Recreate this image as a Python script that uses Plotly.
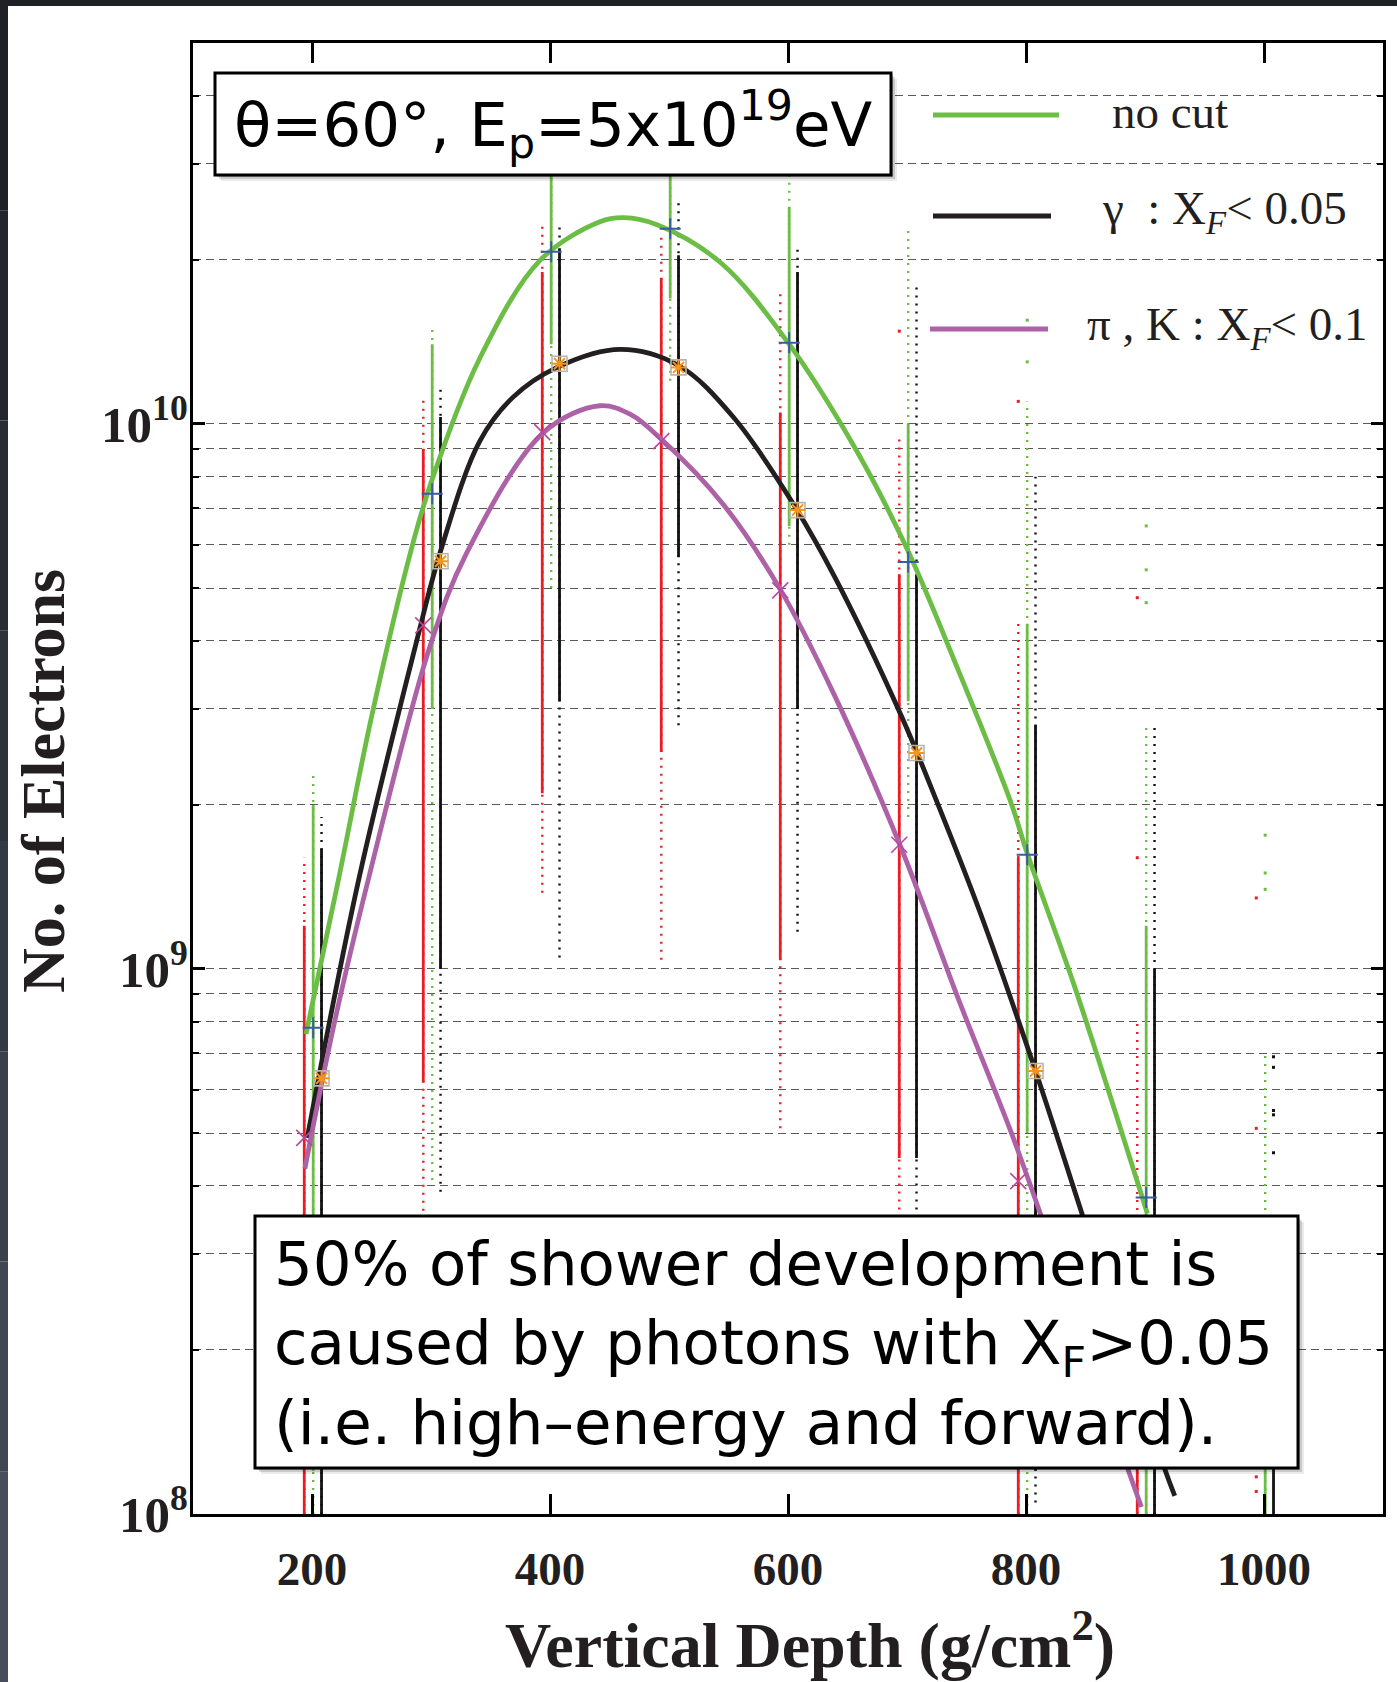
import numpy as np
import plotly.graph_objects as go

# ---------------------------------------------------------------------------
# Data: electron number vs vertical depth, theta = 60 deg, Ep = 5e19 eV
# ---------------------------------------------------------------------------
depths = [200, 300, 400, 500, 600, 700, 800, 900, 1000]

# spread of individual showers per depth: (low, high) of the dense core and
# of the sparse outer extent; None where nothing is drawn
red_core = [(1e8, 1.2e9), (6.2e8, 9.0e9), (2.1e9, 1.9e10), (2.5e9, 1.85e10), (1.04e9, 1.05e10),
            (4.5e8, 5.3e9), (1e8, 1.6e9), (1e8, 3.0e8), None]
red_tail = [(1e8, 1.6e9), (3.6e8, 1.13e10), (1.38e9, 2.35e10), (1.04e9, 2.2e10), (5.1e8, 1.77e10),
            (3.5e8, 9.5e9), (1e8, 4.3e9), (1e8, 8.1e8), None]
red_lone = {700: [1.48e10], 800: [1.1e10], 900: [4.8e9, 1.6e9], 1000: [1.35e9, 5.1e8, 1.17e8, 1.1e8]}

green_core = [(1.2e8, 2.0e9), (3.0e9, 1.4e10), (1.4e10, 3.0e10), (1.7e10, 3.0e10), (6.5e9, 2.5e10),
              (3.1e9, 1.0e10), (5.0e8, 4.3e9), (1e8, 1.2e9), (1e8, 1.3e8)]
green_tail = [(1e8, 2.3e9), (4.1e8, 1.5e10), (5.0e9, 3.0e10), (1.2e10, 3.0e10), (6.0e9, 3.0e10),
              (1.9e9, 2.3e10), (1e8, 1.1e10), (1e8, 2.8e9), (1e8, 7.0e8)]
green_lone = {800: [1.55e10, 1.3e10], 900: [6.5e9, 5.4e9, 4.7e9], 1000: [1.76e9, 1.5e9, 1.4e9]}

black_core = [(1e8, 1.66e9), (1.0e9, 1.03e10), (3.1e9, 2.1e10), (5.7e9, 2.04e10), (3.0e9, 1.9e10),
              (4.5e8, 5.3e9), (1.2e8, 2.8e9), (1e8, 1.0e9), (1e8, 1.25e8)]
black_tail = [(1e8, 1.9e9), (3.9e8, 1.16e10), (1.05e9, 2.35e10), (2.8e9, 2.57e10), (1.17e9, 2.13e10),
              (3.5e8, 1.8e10), (1.05e8, 8.0e9), (1e8, 2.8e9), None]
black_lone = {1000: [6.9e8, 6.6e8, 5.5e8, 5.4e8, 4.6e8]}

# mean values per depth
mean_depths = [200, 300, 400, 500, 600, 700, 800, 900]
mean_nocut = [7.8e8, 7.45e9, 2.07e10, 2.28e10, 1.41e10, 5.58e9, 1.62e9, 3.81e8]
mean_gamma = [6.3e8, 5.6e9, 1.29e10, 1.27e10, 6.95e9, 2.49e9, 6.5e8, None]
mean_pik = [4.9e8, 4.27e9, 9.66e9, 9.3e9, 4.95e9, 1.69e9, 4.08e8, None]

# fitted longitudinal profiles
fit_nocut_x = [195, 222, 250, 283, 300, 341, 392, 442, 462, 490, 543, 599, 658, 700, 740, 787, 801, 840, 880, 902]
fit_nocut_y = [7.6e8, 1.45e9, 2.9e9, 5.84e9, 7.8e9, 1.32e10, 2.0e10, 2.35e10, 2.39e10, 2.32e10, 1.98e10,
               1.42e10, 8.9e9, 5.9e9, 3.67e9, 2.03e9, 1.63e9, 9.4e8, 5.05e8, 3.56e8]
fit_gamma_x = [196, 239, 288, 308, 341, 369, 406, 459, 508, 554, 605, 639, 695, 725, 762, 808, 847, 916, 925]
fit_gamma_y = [4.9e8, 1.45e9, 4.0e9, 5.84e9, 9.3e9, 1.12e10, 1.27e10, 1.37e10, 1.28e10, 1.03e10,
               7.1e9, 5.25e9, 2.92e9, 2.03e9, 1.26e9, 6.5e8, 3.56e8, 1.22e8, 1.08e8]
fit_pik_x = [194, 219, 247, 299, 330, 395, 442, 468, 493, 546, 594, 639, 694, 745, 787, 812, 885, 897]
fit_pik_y = [4.3e8, 8.0e8, 1.45e9, 3.9e9, 5.8e9, 9.66e9, 1.08e10, 1.04e10, 9.4e9, 7.1e9, 4.95e9, 3.18e9,
             1.69e9, 8.6e8, 5.05e8, 3.56e8, 1.22e8, 1.03e8]

x_ticks = [200, 400, 600, 800, 1000]
y_ticks = [1e8, 1e9, 1e10]
y_ticktext = ["10<sup>8</sup>", "10<sup>9</sup>", "10<sup>10</sup>"]
y_minor = [k * 10.0 ** e for e in (8, 9, 10) for k in range(2, 10) if k * 10.0 ** e <= 5e10]
y_top = 5e10

legend_labels = ["no cut",
                 "γ\u00a0\u00a0: X<sub><i>F</i></sub>&lt; 0.05",
                 "π , K\u00a0: X<sub><i>F</i></sub>&lt; 0.1"]
title_text = "θ=60°, E<sub>p</sub>=5x10<sup>19</sup>eV"
note_text = ("50% of shower development is<br>"
             "caused by photons with X<sub>F</sub>&gt;0.05<br>"
             "(i.e. high–energy and forward).")

# ---------------------------------------------------------------------------
# Styling
# ---------------------------------------------------------------------------
RED, GREEN, BLACK, PURPLE = "#ec1c24", "#6cbd45", "#231f20", "#ad62a7"
ORANGE, BLUE, MAGENTA = "#f7941d", "#3b5ba5", "#b8489f"
OFFSET = {"red": -6.5, "green": 1.0, "black": 8.0}   # side-by-side columns per depth
SERIF = "Liberation Serif"
SANS = "DejaVu Sans"

W, H = 1397, 1682
L, R, T, B = 193, 1383, 43, 1514          # plot area in pixels


def px_x(px):
    return (px - L) / (R - L)


def px_y(py):
    return (B - py) / (B - T)


def segments(ranges, off):
    xs, ys = [], []
    for d, r in zip(depths, ranges):
        if r is None:
            continue
        xs += [d + off, d + off, None]
        ys += [r[0], r[1], None]
    return xs, ys


def lone(points, off):
    xs, ys = [], []
    for d, vals in points.items():
        for v in vals:
            xs.append(d + off)
            ys.append(v)
    return xs, ys


fig = go.Figure()

columns = [("red", RED, red_core, red_tail, red_lone),
           ("green", GREEN, green_core, green_tail, green_lone),
           ("black", "#111111", black_core, black_tail, black_lone)]
for name, col, core, tail, single in columns:
    off = OFFSET[name]
    xs, ys = segments(tail, off)
    fig.add_trace(go.Scatter(x=xs, y=ys, mode="lines", hoverinfo="skip",
                             line=dict(color=col, width=2.4, dash="2px,6px")))
    xs, ys = segments(core, off)
    fig.add_trace(go.Scatter(x=xs, y=ys, mode="lines", hoverinfo="skip",
                             line=dict(color=col, width=2.8)))
    xs, ys = lone(single, off)
    fig.add_trace(go.Scatter(x=xs, y=ys, mode="markers", hoverinfo="skip",
                             marker=dict(symbol="square", size=3, color=col, line=dict(width=0))))

# fitted profiles
for fx, fy, col in [(fit_nocut_x, fit_nocut_y, GREEN),
                    (fit_gamma_x, fit_gamma_y, BLACK),
                    (fit_pik_x, fit_pik_y, PURPLE)]:
    fig.add_trace(go.Scatter(x=fx, y=fy, mode="lines", hoverinfo="skip",
                             line=dict(color=col, width=4.8, shape="spline", smoothing=1.0)))

# means
fig.add_trace(go.Scatter(x=[d + OFFSET["green"] for d in mean_depths], y=mean_nocut, mode="markers",
                         marker=dict(symbol="cross-thin-open", size=15, color=BLUE,
                                     line=dict(color=BLUE, width=2))))
gx = [d + OFFSET["black"] for d in mean_depths]
fig.add_trace(go.Scatter(x=gx, y=mean_gamma, mode="markers",
                         marker=dict(symbol="square-open", size=15, color="#b5b5b5",
                                     line=dict(color="#b5b5b5", width=1.6))))
fig.add_trace(go.Scatter(x=gx, y=mean_gamma, mode="markers",
                         marker=dict(symbol="asterisk-open", size=13, color=ORANGE,
                                     line=dict(color=ORANGE, width=2))))
fig.add_trace(go.Scatter(x=[d + OFFSET["red"] for d in mean_depths], y=mean_pik, mode="markers",
                         marker=dict(symbol="x-thin-open", size=16, color=MAGENTA,
                                     line=dict(color=MAGENTA, width=1.6))))

grid = dict(showgrid=True, gridcolor="#5a5a5a", griddash="8px,5px", gridwidth=1.4)

fig.update_xaxes(range=[100, 1100], tickmode="array", tickvals=x_ticks,
                 ticks="inside", ticklen=20, tickwidth=2.5, tickcolor="black",
                 showline=True, linewidth=3, linecolor="black", mirror="ticks",
                 showgrid=False, zeroline=False, ticklabelstandoff=12,
                 tickfont=dict(family=SERIF, size=47, color=BLACK, weight="bold"))
fig.update_yaxes(type="log", range=[8, np.log10(y_top)], tickmode="array",
                 tickvals=y_ticks, ticktext=y_ticktext,
                 ticks="inside", ticklen=12, tickwidth=2.5, tickcolor="black",
                 showline=True, linewidth=3, linecolor="black", mirror="ticks",
                 zeroline=False, ticklabelstandoff=-8,
                 tickfont=dict(family=SERIF, size=51, color=BLACK, weight="bold"),
                 minor=dict(tickmode="array", tickvals=y_minor, ticks="inside", ticklen=6,
                            tickwidth=2, tickcolor="black", **grid),
                 **grid)

shapes = []
# dark window edge along the top and left
shapes.append(dict(type="rect", xref="paper", yref="paper", x0=px_x(0), x1=px_x(W), y0=px_y(0), y1=px_y(6),
                   fillcolor="#1e2126", line=dict(width=0), layer="above"))
strip_cols = ["#1e2126", "#23272d", "#282d34", "#2d333b", "#333a43", "#39414b", "#3f4753", "#454e5a"]
n = len(strip_cols)
for i, c in enumerate(strip_cols):
    shapes.append(dict(type="rect", xref="paper", yref="paper", x0=px_x(0), x1=px_x(8),
                       y0=px_y(H * (i + 1) / n), y1=px_y(H * i / n),
                       fillcolor=c, line=dict(width=0), layer="above"))


def framed_box(x0, y0, x1, y1):
    out = []
    for k, a in [(6, 0.08), (4, 0.14), (2, 0.2)]:
        out.append(dict(type="rect", xref="paper", yref="paper",
                        x0=px_x(x0 + k), x1=px_x(x1 + k), y0=px_y(y1 + k), y1=px_y(y0 + k),
                        fillcolor=f"rgba(0,0,0,{a})", line=dict(width=0), layer="above"))
    out.append(dict(type="rect", xref="paper", yref="paper",
                    x0=px_x(x0), x1=px_x(x1), y0=px_y(y1), y1=px_y(y0),
                    fillcolor="white", line=dict(color="black", width=3), layer="above"))
    return out


shapes += framed_box(215, 73, 891, 175)
shapes += framed_box(255, 1216, 1298, 1468)

# legend samples
for (xa, xb, yy, col) in [(933, 1059, 115, GREEN), (933, 1051, 216, BLACK), (930, 1048, 329, PURPLE)]:
    shapes.append(dict(type="line", xref="paper", yref="paper", x0=px_x(xa), x1=px_x(xb),
                       y0=px_y(yy), y1=px_y(yy), line=dict(color=col, width=5), layer="above"))

annotations = [
    dict(text=title_text, x=px_x(553), y=px_y(124), xref="paper", yref="paper", showarrow=False,
         xanchor="center", yanchor="middle", font=dict(family=SANS, size=61, color="black")),
    dict(text=note_text, x=px_x(272), y=px_y(1343), xref="paper", yref="paper", showarrow=False,
         xanchor="left", yanchor="middle", align="left", font=dict(family=SANS, size=61, color="black")),
    dict(text=legend_labels[0], x=px_x(1110), y=px_y(112), xref="paper", yref="paper", showarrow=False,
         xanchor="left", yanchor="middle", font=dict(family=SERIF, size=47, color=BLACK)),
    dict(text=legend_labels[1], x=px_x(1100), y=px_y(212), xref="paper", yref="paper", showarrow=False,
         xanchor="left", yanchor="middle", font=dict(family=SERIF, size=47, color=BLACK)),
    dict(text=legend_labels[2], x=px_x(1085), y=px_y(327), xref="paper", yref="paper", showarrow=False,
         xanchor="left", yanchor="middle", font=dict(family=SERIF, size=47, color=BLACK)),
    dict(text="No. of Electrons", x=px_x(43), y=px_y(781), xref="paper", yref="paper", showarrow=False,
         textangle=-90, xanchor="center", yanchor="middle",
         font=dict(family=SERIF, size=62, color=BLACK, weight="bold")),
    dict(text="Vertical Depth (g/cm<sup>2</sup>)", x=px_x(810), y=px_y(1640), xref="paper", yref="paper",
         showarrow=False, xanchor="center", yanchor="middle",
         font=dict(family=SERIF, size=64, color=BLACK, weight="bold")),
]

fig.update_layout(width=W, height=H, margin=dict(l=L, r=W - R, t=T, b=H - B),
                  paper_bgcolor="white", plot_bgcolor="white", showlegend=False,
                  shapes=shapes, annotations=annotations)

fig.write_html("out.html")
